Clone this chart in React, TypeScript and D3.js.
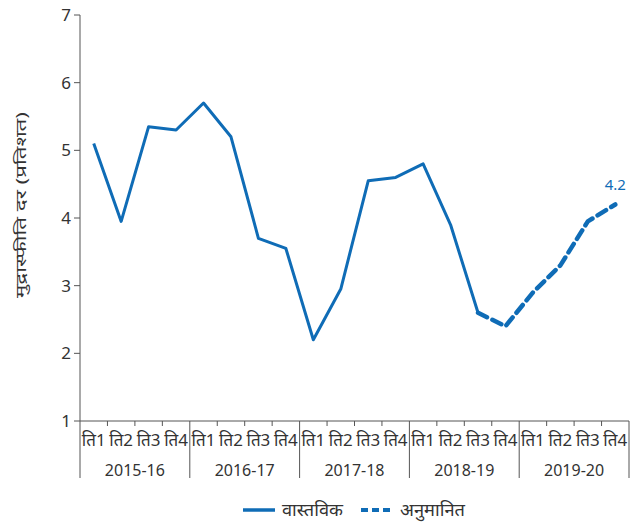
import React from 'react';
import * as d3 from 'd3';

const years = ['2015-16', '2016-17', '2017-18', '2018-19', '2019-20'];
const quarters = ['ति1', 'ति2', 'ति3', 'ति4'];

// actual: 2015-16 Q1 .. 2018-19 Q3
const actual = [5.1, 3.95, 5.35, 5.3, 5.7, 5.2, 3.7, 3.55, 2.2, 2.95, 4.55, 4.6, 4.8, 3.9, 2.6];
// forecast: 2018-19 Q3 .. 2019-20 Q4
const forecastStart = 14;
const forecast = [2.6, 2.4, 2.9, 3.3, 3.95, 4.2];

const yTicks = [1, 2, 3, 4, 5, 6, 7];

export default function App() {
  const width = 640;
  const height = 522;
  const margin = { top: 15, right: 11, bottom: 101, left: 80 };

  const keys = years.flatMap(y => quarters.map(q => `${y}|${q}`));

  const x = d3
    .scaleBand()
    .domain(keys)
    .range([margin.left, width - margin.right]);

  const y = d3
    .scaleLinear()
    .domain([1, 7])
    .range([height - margin.bottom, margin.top]);

  const cx = (i: number) => (x(keys[i]) as number) + x.bandwidth() / 2;

  const line = d3
    .line<number>()
    .x((_, i) => cx(i))
    .y(d => y(d));

  const lineF = d3
    .line<number>()
    .x((_, i) => cx(i + forecastStart))
    .y(d => y(d));

  const blue = '#0f6cb6';
  const axisColor = '#555';
  const textColor = '#333';
  const font = '"Noto Sans", sans-serif';
  const y0 = y(1);
  const yearW = x.bandwidth() * 4;
  const lastIdx = forecastStart + forecast.length - 1;

  return (
    <svg
      width={width}
      height={height}
      style={{ position: 'absolute', left: 0, top: 0 }}
      fontFamily={font}
    >
      {/* y axis */}
      <line x1={margin.left} x2={margin.left} y1={margin.top} y2={y0 + 57} stroke={axisColor} strokeWidth={1} />
      {yTicks.map(t => (
        <g key={t}>
          <line x1={margin.left - 6} x2={margin.left} y1={y(t)} y2={y(t)} stroke={axisColor} />
          <text x={margin.left - 9} y={y(t)} dy="0.35em" textAnchor="end" fontSize={17} fill={textColor}>
            {t}
          </text>
        </g>
      ))}
      <text
        transform={`translate(26,205) rotate(-90)`}
        textAnchor="middle"
        fontSize={15}
        textLength={186}
        lengthAdjust="spacingAndGlyphs"
        fill={textColor}
      >
        मुद्रास्फीति दर (प्रतिशत)
      </text>

      {/* x axis */}
      <line x1={margin.left} x2={width - margin.right} y1={y0} y2={y0} stroke={axisColor} />
      {keys.map((k, i) => (
        <g key={k}>
          {i % 4 !== 0 && (
            <line x1={x(k)} x2={x(k)} y1={y0} y2={y0 + 5} stroke={axisColor} />
          )}
          <text x={cx(i)} y={y0 + 25} textAnchor="middle" fontSize={17} fill={textColor}>
            {k.split('|')[1]}
          </text>
        </g>
      ))}
      {years.map(yr => {
        const x0 = x(`${yr}|${quarters[0]}`) as number;
        return (
          <g key={yr}>
            <line x1={x0 + yearW} x2={x0 + yearW} y1={y0} y2={y0 + 57} stroke={axisColor} />
            <text x={x0 + yearW / 2} y={y0 + 55} textAnchor="middle" fontSize={16} fill={textColor}>
              {yr}
            </text>
          </g>
        );
      })}

      {/* series */}
      <path d={line(actual) ?? ''} fill="none" stroke={blue} strokeWidth={3} strokeLinejoin="round" />
      <path
        d={lineF(forecast) ?? ''}
        fill="none"
        stroke={blue}
        strokeWidth={4.5}
        strokeDasharray="10 6"
        strokeLinecap="round"
        strokeLinejoin="round"
      />
      <text x={cx(lastIdx)} y={y(forecast[forecast.length - 1]) - 14} textAnchor="middle" fontSize={15} fill={blue}>
        {forecast[forecast.length - 1]}
      </text>

      {/* legend */}
      <line x1={243} x2={275} y1={510} y2={510} stroke={blue} strokeWidth={3.5} />
      <text x={282} y={510} dy="0.35em" fontSize={17} textLength={61} lengthAdjust="spacingAndGlyphs" fill={textColor}>वास्तविक</text>
      <line x1={361} x2={392} y1={510} y2={510} stroke={blue} strokeWidth={4} strokeDasharray="7 4" />
      <text x={400} y={510} dy="0.35em" fontSize={17} textLength={65} lengthAdjust="spacingAndGlyphs" fill={textColor}>अनुमानित</text>
    </svg>
  );
}
